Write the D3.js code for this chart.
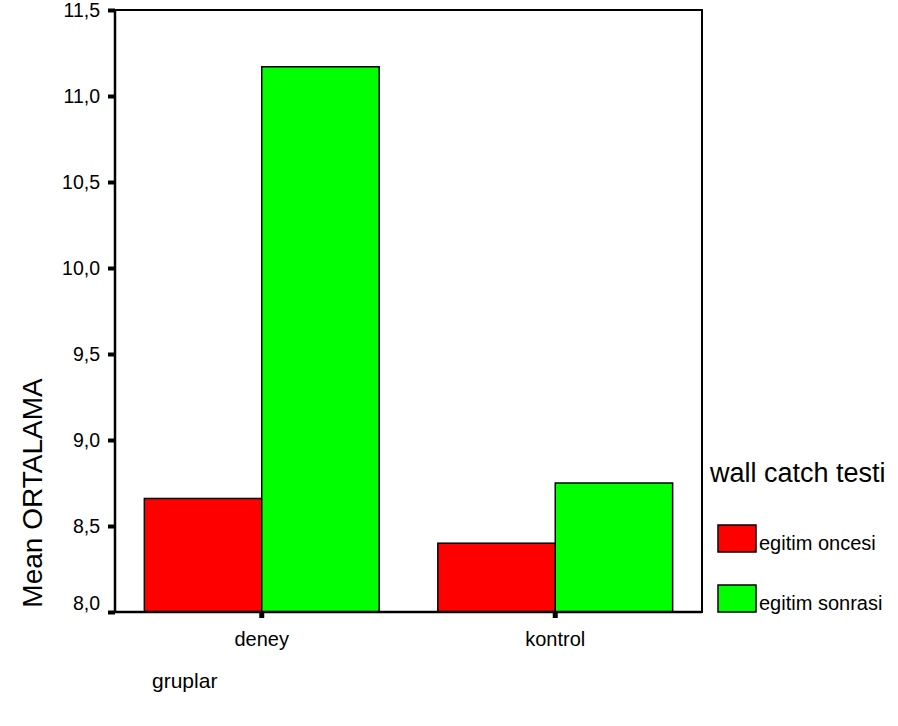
<!DOCTYPE html>
<html><head><meta charset="utf-8">
<script src="https://cdn.jsdelivr.net/npm/d3@7"></script>
<style>body{margin:0;background:#fff}text{font-family:"Liberation Sans",Arial,sans-serif}</style>
</head><body><svg id="c" width="898" height="726"></svg>
<script>
const categories = ["deney", "kontrol"];
const seriesNames = ["egitim oncesi", "egitim sonrasi"];
const seriesColors = ["#ff0000", "#00ff00"];
const oncesi = [8.66, 8.40];
const sonrasi = [11.17, 8.75];
const yTicks = [8.0, 8.5, 9.0, 9.5, 10.0, 10.5, 11.0, 11.5];

const svg = d3.select("#c");
const L = 115, R = 702, T = 10, B = 612;
const y = d3.scaleLinear().domain([8, 11.5]).range([B, T]);
const x0 = d3.scaleBand().domain(categories).range([L, R]).padding(0);
const x1 = d3.scaleBand().domain(seriesNames).range([x0.bandwidth()*0.1, x0.bandwidth()*0.9]).padding(0);
const vals = [oncesi, sonrasi];
const FF = "Liberation Sans, Arial, sans-serif";

svg.append("rect").attr("x", L).attr("y", T).attr("width", R-L).attr("height", B-T)
  .attr("fill", "#fff").attr("stroke", "#000").attr("stroke-width", 2);

categories.forEach((c, i) => {
  seriesNames.forEach((s, j) => {
    svg.append("rect")
      .attr("x", x0(c) + x1(s)).attr("y", y(vals[j][i]))
      .attr("width", x1.bandwidth()).attr("height", B - y(vals[j][i]))
      .attr("fill", seriesColors[j]).attr("stroke", "#000").attr("stroke-width", 1.5);
  });
});

const fmt = d => d.toFixed(1).replace(".", ",");
const ya = svg.append("g").attr("transform", `translate(${L},0)`)
  .call(d3.axisLeft(y).tickValues(yTicks).tickFormat(fmt).tickSize(7).tickPadding(8));
ya.select(".domain").remove();
ya.selectAll(".tick line").attr("stroke", "#000").attr("stroke-width", 4);
ya.selectAll(".tick text").attr("font-size", 19.5).attr("fill", "#000").attr("font-family", FF)
  .attr("dy", "0.34em")
  .attr("y", (d, i) => i === 0 ? -9 : 0);

const xa = svg.append("g").attr("transform", `translate(0,${B})`)
  .call(d3.axisBottom(x0).tickSize(6).tickPadding(12));
xa.select(".domain").remove();
xa.selectAll(".tick line").attr("stroke", "#000").attr("stroke-width", 5);
xa.selectAll(".tick text").attr("font-size", 20).attr("fill", "#000").attr("font-family", FF)
  .attr("dy", null).attr("y", 34);

svg.append("line").attr("x1", L).attr("x2", R).attr("y1", B).attr("y2", B).attr("stroke", "#000").attr("stroke-width", 2.5);
svg.append("line").attr("x1", L).attr("x2", L).attr("y1", T).attr("y2", B).attr("stroke", "#000").attr("stroke-width", 2.5);

svg.append("text").attr("transform", "translate(42,493) rotate(-90)").attr("text-anchor", "middle")
  .attr("font-size", 28).text("Mean ORTALAMA");
svg.append("text").attr("x", 152).attr("y", 688).attr("font-size", 21).text("gruplar");

svg.append("text").attr("x", 710).attr("y", 482).attr("font-size", 27).text("wall catch testi");
seriesNames.forEach((s, j) => {
  const yy = 525 + j*60;
  svg.append("rect").attr("x", 718).attr("y", yy).attr("width", 38).attr("height", 27)
    .attr("fill", seriesColors[j]).attr("stroke", "#000").attr("stroke-width", 1.5);
  svg.append("text").attr("x", 759).attr("y", yy + 25).attr("font-size", 20).text(s);
});
</script></body></html>
